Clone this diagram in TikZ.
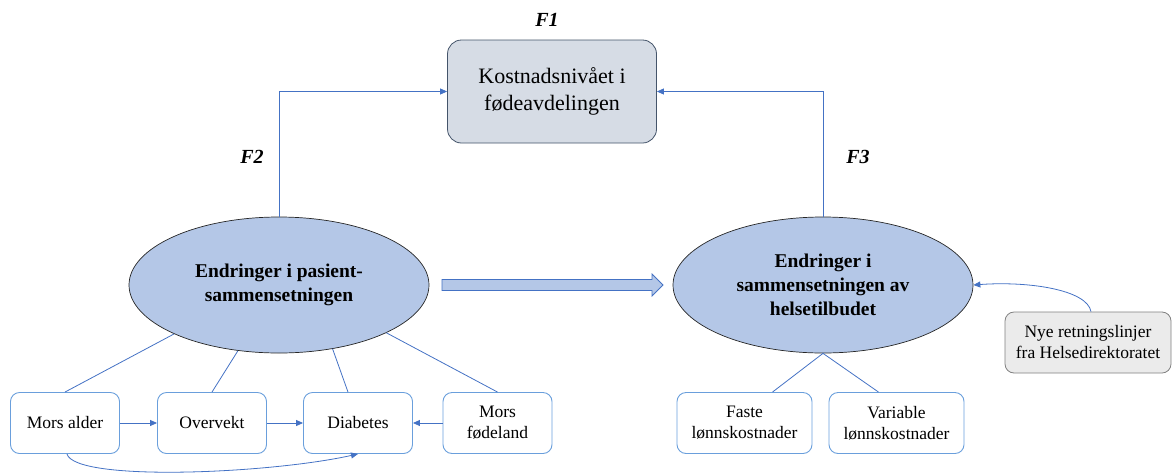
\documentclass[tikz,border=0pt]{standalone}
\usepackage{fontspec}
\setmainfont{Liberation Serif}
\usetikzlibrary{arrows.meta,shapes.geometric}
\definecolor{lineblue}{HTML}{4472C4}
\definecolor{boxblue}{HTML}{6A9FDC}
\definecolor{ellfill}{HTML}{B4C7E7}
\definecolor{topfill}{HTML}{D6DCE5}
\definecolor{topdraw}{HTML}{44546A}
\definecolor{greyfill}{HTML}{EBEBEB}
\definecolor{greydraw}{HTML}{808080}
\begin{document}
\begin{tikzpicture}[x=1pt,y=-1pt,
    link/.style={lineblue, line width=0.8pt},
    arr/.style={link, -{Triangle[length=7pt,width=6pt]}},
    smallbox/.style={draw=boxblue, line width=0.9pt, rounded corners=9pt, align=center,
        minimum width=109pt, minimum height=61pt, font=\fontsize{17.5}{21}\selectfont},
    oval/.style={ellipse, draw=black!85, line width=0.7pt, fill=ellfill, align=center,
        minimum width=300pt, minimum height=136pt, inner sep=0pt,
        font=\bfseries\fontsize{19.5}{24}\selectfont},
    flabel/.style={font=\bfseries\itshape\fontsize{20}{24}\selectfont}]
    \useasboundingbox (0,0) rectangle (1173,475);
    % main boxes
    \node[draw=topdraw, line width=0.8pt, fill=topfill, rounded corners=14pt, align=center,
        minimum width=209pt, minimum height=103pt, font=\fontsize{22}{27}\selectfont]
        (kost) at (552,91.5) {Kostnadsnivået i\\fødeavdelingen};
    \node[oval] (pas) at (279,285) {Endringer i pasient-\\sammensetningen};
    \node[oval] (helse) at (823,285) {Endringer i\\sammensetningen av\\helsetilbudet};
    \node[flabel] (f1) at (547,20) {F1};
    \node[flabel] (f2) at (252,157) {F2};
    \node[flabel] (f3) at (858,157) {F3};
    % small boxes
    \node[smallbox] (alder) at (65,423) {Mors alder};
    \node[smallbox] (overvekt) at (212,423) {Overvekt};
    \node[smallbox] (diab) at (358,423) {Diabetes};
    \node[smallbox] (land) at (497.5,423) {Mors\\fødeland};
    \node[smallbox, minimum width=135pt] (faste) at (744.5,423) {Faste\\lønnskostnader};
    \node[smallbox, minimum width=135pt] (variabel) at (896.5,423) {Variable\\lønnskostnader};
    \node[draw=greydraw, line width=0.8pt, fill=greyfill, rounded corners=9pt, align=center,
        minimum width=166pt, minimum height=61pt, font=\fontsize{17.5}{21}\selectfont]
        (nye) at (1088,342.5) {Nye retningslinjer\\fra Helsedirektoratet};
    % arrows to the top box
    \draw[arr] (pas.north) |- (kost.west);
    \draw[arr] (helse.north) |- (kost.east);
    % thick arrow between the ovals
    \draw[lineblue, line width=0.8pt, fill=ellfill] (442,279.5) -- (652,279.5) -- (652,274)
        -- (663,285) -- (652,296) -- (652,290.5) -- (442,290.5) -- cycle;
    % lines to the small boxes
    \draw[link] (pas.205) -- (alder.north);
    \draw[link] (pas.238) -- (overvekt.north);
    \draw[link] (pas.310) -- ([xshift=-10pt]diab.north);
    \draw[link] (pas.336) -- (land.north);
    \draw[link] (helse.south) -- ([xshift=28pt]faste.north);
    \draw[link] (helse.south) -- ([xshift=-18pt]variabel.north);
    \draw[arr] (alder) -- (overvekt);
    \draw[arr] (overvekt) -- (diab);
    \draw[arr] (land) -- (diab);
    \draw[arr] ([xshift=2pt]alder.south) .. controls +(8,28) and +(-90,20) .. (diab.south);
    \draw[arr] ([xshift=3pt]nye.north) .. controls +(-4,-22) and +(55,-4) .. (helse.east);
\end{tikzpicture}
\end{document}
